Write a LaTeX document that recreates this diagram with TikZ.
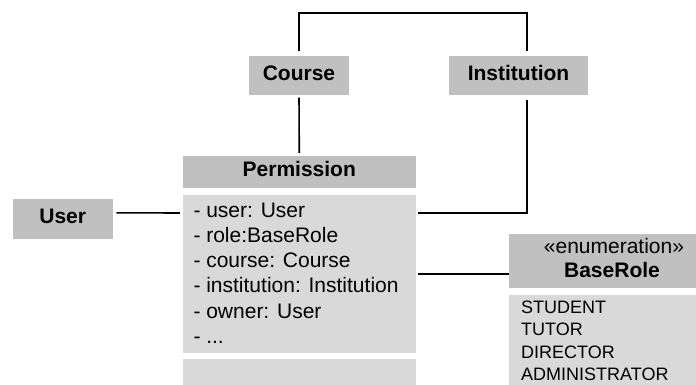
\documentclass[tikz,border=0pt]{standalone}
\usepackage{fontspec}
\setmainfont{Liberation Sans}

\definecolor{headgray}{RGB}{192,192,192}
\definecolor{bodygray}{RGB}{217,217,217}

\begin{document}
\begin{tikzpicture}[x=1pt, y=-1pt,
    classhead/.style={fill=headgray, inner sep=0pt, font=\fontsize{21}{25}\selectfont\bfseries, text height=15pt, text depth=6pt},
    classbody/.style={fill=bodygray, inner sep=0pt},
    attrtext/.style={anchor=base west, inner sep=0pt, font=\fontsize{21}{25}\selectfont},
    littext/.style={anchor=base west, inner sep=0pt, font=\fontsize{18}{22}\selectfont},
    assoc/.style={draw=black, line width=1.6pt}]
    \useasboundingbox (0,0) rectangle (696,385);
    \clip (0,0) rectangle (696,385);

    % Plain classes
    \node[classhead, minimum width=100pt, minimum height=39.5pt] (course) at (299,75.75) {Course};
    \node[classhead, minimum width=138.4pt, minimum height=39.5pt] (inst) at (518.5,75.75) {Institution};
    \node[classhead, minimum width=100pt, minimum height=40pt] (user) at (62.7,219.3) {User};

    % Permission class with attributes and (empty) operations
    \node[classhead, minimum width=232.7pt, minimum height=32pt] (perm) at (299.3,172) {Permission};
    \node[classbody, minimum width=232.7pt, minimum height=157.7pt, anchor=north] (attrs) at (299.3,195) {};
    \node[classbody, minimum width=232.7pt, minimum height=36pt, anchor=north] (ops) at (299.3,359) {};
    \foreach \txt [count=\i from 0] in {{- user: User}, {- role:BaseRole}, {- course: Course}, {- institution: Institution}, {- owner: User}, {- .{}.{}.}}
        \node[attrtext] (attr\i) at (193.3, 217+25.3*\i) {\txt};

    % Enumeration
    \node[classhead, minimum width=209pt, minimum height=54.4pt, anchor=north west] (enum) at (508.5,233.3) {};
    \node[anchor=base, inner sep=0pt, font=\fontsize{21}{25}\selectfont] (stereo) at (614,253) {«enumeration»};
    \node[anchor=base, inner sep=0pt, font=\fontsize{21}{25}\selectfont\bfseries] (enumname) at (612,277) {BaseRole};
    \node[classbody, minimum width=209pt, minimum height=100pt, anchor=north west] (lits) at (508.5,294.3) {};
    \foreach \txt [count=\i from 0] in {STUDENT, TUTOR, DIRECTOR, ADMINISTRATOR}
        \node[littext] (lit\i) at (521, 313+22.5*\i) {\txt};

    % Associations
    \draw[assoc] ([yshift=5pt]course.north) -- ++(0,-38) -| ([xshift=8.2pt,yshift=4.5pt]inst.north);
    \draw[assoc, shorten <=2pt, shorten >=3pt] (course.south) -- (perm.north);
    \draw[assoc] ([xshift=8.2pt,yshift=-4.5pt]inst.south) |- ([xshift=2pt,yshift=-18pt]attrs.north east);
    \draw[assoc] ([xshift=3.5pt,yshift=6.5pt]user.east) -- ([xshift=-3pt,yshift=-18pt]attrs.north west);
    \draw[assoc, shorten <=2pt] (attrs.east) -- (attrs.east -| enum.west);

\end{tikzpicture}
\end{document}
